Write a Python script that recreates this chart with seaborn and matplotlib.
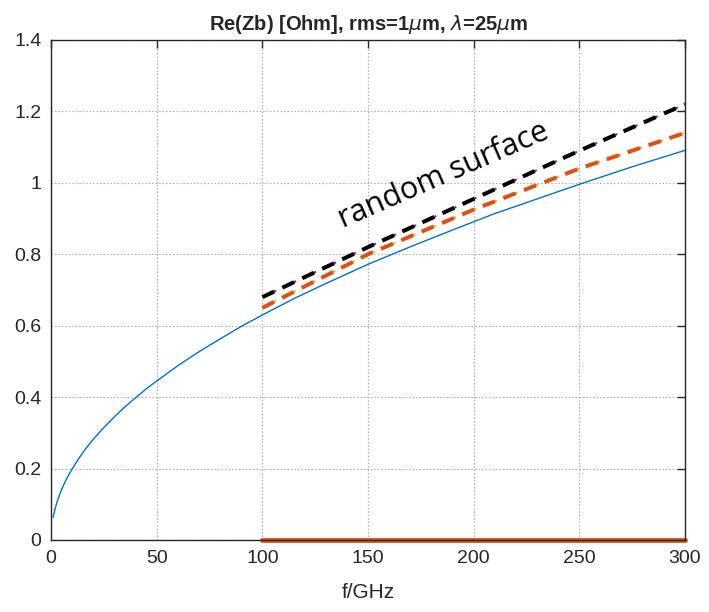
import matplotlib
matplotlib.use("Agg")
import matplotlib.pyplot as plt
import seaborn as sns
import pandas as pd

# smooth-surface curve (blue)
f_smooth = [1, 2, 3, 4, 5, 7, 10, 13, 16, 20, 25, 30, 35, 40, 45, 50, 60, 70, 80, 90,
            100, 115, 130, 150, 170, 190, 210, 230, 250, 275, 300]
z_smooth = [0.063, 0.089, 0.109, 0.126, 0.141, 0.167, 0.199, 0.227, 0.252, 0.282,
            0.315, 0.345, 0.373, 0.398, 0.423, 0.445, 0.488, 0.527, 0.563, 0.598,
            0.630, 0.676, 0.718, 0.772, 0.821, 0.868, 0.914, 0.955, 0.996, 1.045, 1.091]

# random-surface curves (dashed)
f_rand = [100, 150, 200, 250, 300]
z_black = [0.68, 0.82, 0.955, 1.09, 1.22]
z_orange = [0.65, 0.80, 0.925, 1.04, 1.14]

# zero line
f_zero = [100, 300]
z_zero = [0.0, 0.0]

xticks = [0, 50, 100, 150, 200, 250, 300]
yticks = [0, 0.2, 0.4, 0.6, 0.8, 1.0, 1.2, 1.4]
yticklabels = ["0", "0.2", "0.4", "0.6", "0.8", "1", "1.2", "1.4"]

sns.set_style("white")
plt.rcParams["font.family"] = ["Liberation Sans", "DejaVu Sans"]
plt.rcParams["mathtext.fontset"] = "dejavusans"
plt.rcParams["lines.scale_dashes"] = False

fig = plt.figure(figsize=(7.09, 6.12), dpi=100)
ax = fig.add_axes([51 / 709, 72 / 612, 634 / 709, 500 / 612])

df_s = pd.DataFrame({"f": f_smooth, "z": z_smooth})
df_b = pd.DataFrame({"f": f_rand, "z": z_black})
df_o = pd.DataFrame({"f": f_rand, "z": z_orange})
df_z = pd.DataFrame({"f": f_zero, "z": z_zero})

dash_on, dash_off = 9.4, 6.5
period = dash_on + dash_off
main_ls = (0, (dash_on, dash_off))
under_ls = (period - 1.6, (dash_on, dash_off))

sns.lineplot(data=df_s, x="f", y="z", ax=ax, color="#0072BD", lw=1.0)
sns.lineplot(data=df_b, x="f", y="z", ax=ax, color="#7E2F8E", lw=1.5, linestyle=under_ls)
sns.lineplot(data=df_b, x="f", y="z", ax=ax, color="black", lw=2.9, linestyle=main_ls)
sns.lineplot(data=df_o, x="f", y="z", ax=ax, color="#EDB120", lw=1.5, linestyle=under_ls)
sns.lineplot(data=df_o, x="f", y="z", ax=ax, color="#D95319", lw=2.9, linestyle=main_ls)
sns.lineplot(data=df_z, x="f", y="z", ax=ax, color="#D95319", lw=3.5)
ax.lines[-1].set_clip_on(False)
for l in ax.lines:
    l.set_dash_capstyle("butt")

ax.set_xlim(0, 300)
ax.set_ylim(0, 1.4)
ax.set_xticks(xticks)
ax.set_yticks(yticks)
ax.set_yticklabels(yticklabels)
ax.grid(True, color="#a8a8a8", linestyle=(0, (1, 1.5)), lw=0.8)
ax.tick_params(direction="in", length=6, width=1.0, labelsize=14, colors="#262626",
               top=True, right=True, labelcolor="#262626", pad=7)
for s in ax.spines.values():
    s.set_color("#262626")
    s.set_linewidth(1.0)

ax.set_xlabel("f/GHz", fontsize=15, color="#262626", labelpad=12)
ax.set_ylabel("")
ax.set_title(r"Re(Zb) [Ohm], rms=1$\mu$m, $\lambda$=25$\mu$m", fontsize=14.5,
             fontweight="bold", pad=7)

ax.text(186, 1.02, "random surface", rotation=23.5, fontsize=22,
        family=["Open Sans", "DejaVu Sans"], ha="center", va="center",
        rotation_mode="anchor", color="black")

fig.savefig("out.png", dpi=100)
